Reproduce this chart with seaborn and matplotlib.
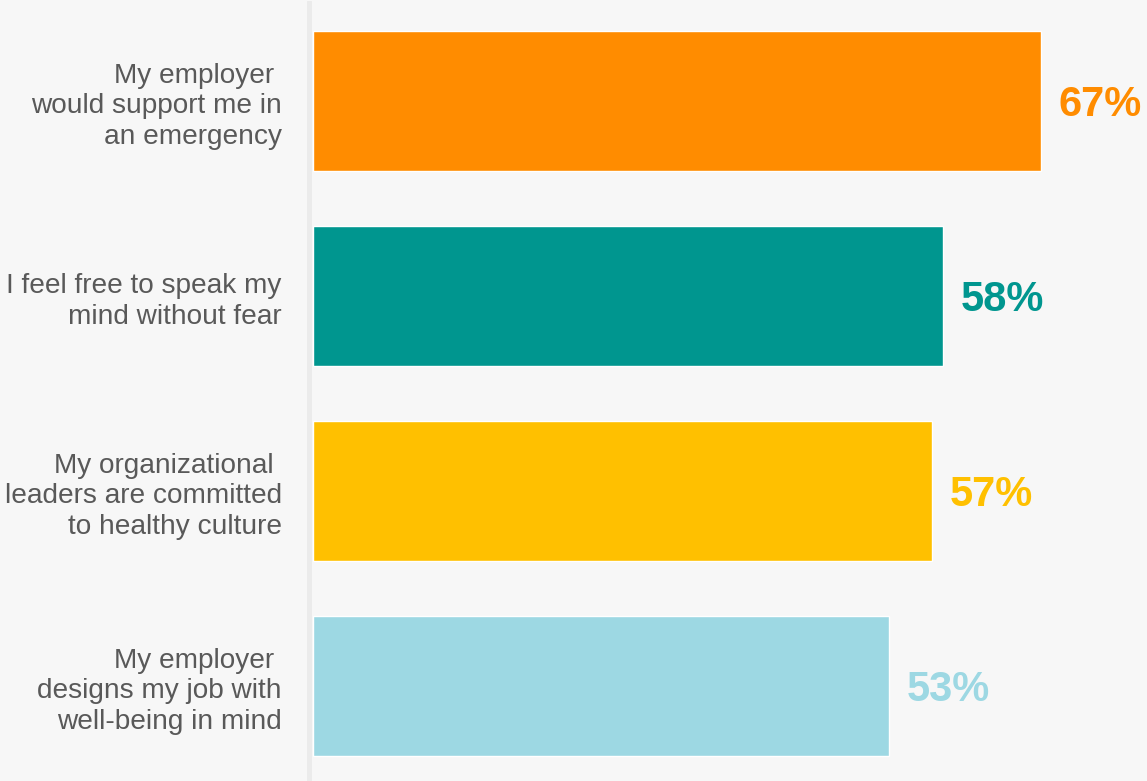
import matplotlib
matplotlib.use("Agg")
import matplotlib.pyplot as plt
import seaborn as sns
import pandas as pd

# Survey statements and share of respondents agreeing (%)
statements = [
    "My employer \nwould support me in\nan emergency",
    "I feel free to speak my\nmind without fear",
    "My organizational \nleaders are committed\nto healthy culture",
    "My employer \ndesigns my job with\nwell-being in mind",
]
percentages = [67, 58, 57, 53]
bar_colors = ["#FF8C00", "#00968F", "#FFC000", "#9DD8E3"]

df = pd.DataFrame({"statement": statements, "pct": percentages})

sns.set_theme(style="white")
plt.rcParams["font.family"] = ["Liberation Sans", "DejaVu Sans"]

bg = "#F7F7F7"
fig = plt.figure(figsize=(11.47, 7.81), dpi=100, facecolor=bg)
ax = fig.add_axes([313 / 1147, 0, 1 - 313 / 1147, 1 - 3 / 781])
ax.set_facecolor(bg)

sns.barplot(
    data=df, x="pct", y="statement", hue="statement",
    palette=bar_colors, legend=False, width=0.72, saturation=1,
    ax=ax, orient="h",
)

ax.set_xlim(0, 76.8)
ax.set_ylim(3.487, -0.503)
ax.set_xlabel("")
ax.set_ylabel("")
ax.set_xticks([])

for side in ["top", "right", "bottom"]:
    ax.spines[side].set_visible(False)
ax.spines["left"].set_color("#EBEBEB")
ax.spines["left"].set_linewidth(3.5)
ax.spines["left"].set_position(("outward", 3))

ax.tick_params(axis="y", length=0, pad=19.5)
for lbl in ax.get_yticklabels():
    lbl.set_fontsize(20.2)
    lbl.set_color("#595959")
    lbl.set_horizontalalignment("right")
    lbl.set_multialignment("right")
    lbl.set_linespacing(1.24)
    lbl.set_verticalalignment("center_baseline")

# Value labels beside each bar, in the bar's colour
for i, (v, c) in enumerate(zip(percentages, bar_colors)):
    ax.annotate(
        f"{v}%", xy=(v, i), xytext=(18, -4), textcoords="offset pixels",
        ha="left", va="center", fontsize=30, fontweight="bold", color=c,
    )

fig.savefig("out.png", dpi=100, facecolor=bg)
